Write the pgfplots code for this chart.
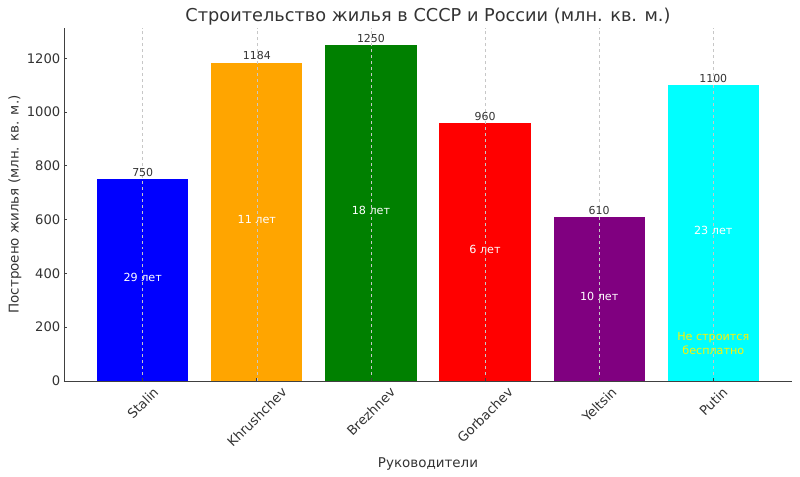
\documentclass[border=0pt]{standalone}
\usepackage{fontspec}
\setmainfont{DejaVu Sans}
\usepackage{graphicx}
\usepackage{pgfplots}
\pgfplotsset{compat=1.18}
\definecolor{txt}{HTML}{333333}
\definecolor{cOrange}{HTML}{FFA500}
\definecolor{cGreen}{HTML}{008000}
\definecolor{cPurple}{HTML}{800080}
\definecolor{cCyan}{HTML}{00FFFF}
\begin{document}
\begin{tikzpicture}
\begin{axis}[
  name=ax, scale only axis, width=728bp, height=353bp,
  xmin=-0.69, xmax=5.69, ymin=0, ymax=1312.5,
  ybar, bar width=0.8, bar shift=0pt,
  axis lines=left, axis line style={-, black!75, line width=0.8pt},
  tick style={black!75, line width=0.8pt},
  tick align=inside, major tick length=3.5bp,
  /pgf/number format/assume math mode=true,
  /pgf/number format/set thousands separator={},
  xtick={0,1,2,3,4,5},
  xticklabels={\rotatebox{45}{Stalin},\rotatebox{45}{Khrushchev},\rotatebox{45}{Brezhnev},\rotatebox{45}{Gorbachev},\rotatebox{45}{Yeltsin},\rotatebox{45}{Putin}},
  xticklabel style={anchor=north, font=\fontsize{13.2}{15}\selectfont, text=txt, inner sep=2bp, yshift=-3bp},
  ytick={0,200,400,600,800,1000,1200},
  yticklabel style={font=\fontsize{13.2}{15}\selectfont, text=txt, inner sep=2bp, xshift=-1.5bp},
  xmajorgrids, grid style={dashed, black!22, line width=0.5pt},
  axis on top,
  title={Строительство жилья в СССР и России (млн. кв. м.)},
  title style={font=\fontsize{17.8}{20}\selectfont, text=txt, yshift=-7bp},
  xlabel={Руководители},
  ylabel={Построено жилья (млн. кв. м.)},
  xlabel style={font=\fontsize{13.5}{15}\selectfont, text=txt, yshift=-4bp},
  ylabel style={font=\fontsize{13.5}{15}\selectfont, text=txt},
  nodes near coords,
  every node near coord/.append style={font=\fontsize{11}{13}\selectfont, text=txt, yshift=-1bp},
]
\addplot[fill=blue, draw=none] coordinates {(0,750)};
\addplot[fill=cOrange, draw=none] coordinates {(1,1184)};
\addplot[fill=cGreen, draw=none] coordinates {(2,1250)};
\addplot[fill=red, draw=none] coordinates {(3,960)};
\addplot[fill=cPurple, draw=none] coordinates {(4,610)};
\addplot[fill=cCyan, draw=none] coordinates {(5,1100)};
\node[text=white, font=\fontsize{11.2}{13}\selectfont] at (axis cs:0,385) {29 лет};
\node[text=white, font=\fontsize{11.2}{13}\selectfont] at (axis cs:1,602) {11 лет};
\node[text=white, font=\fontsize{11.2}{13}\selectfont] at (axis cs:2,635) {18 лет};
\node[text=white, font=\fontsize{11.2}{13}\selectfont] at (axis cs:3,490) {6 лет};
\node[text=white, font=\fontsize{11.2}{13}\selectfont] at (axis cs:4,315) {10 лет};
\node[text=white, font=\fontsize{11.2}{13}\selectfont] at (axis cs:5,560) {23 лет};
\node[text=yellow, font=\fontsize{11.2}{13.5}\selectfont, align=center] at (axis cs:5,140) {Не строится\\бесплатно};
\end{axis}
\pgfresetboundingbox
\path ([shift={(-64bp,-96bp)}]ax.south west) rectangle ([shift={(8bp,28bp)}]ax.north east);
\end{tikzpicture}
\end{document}
